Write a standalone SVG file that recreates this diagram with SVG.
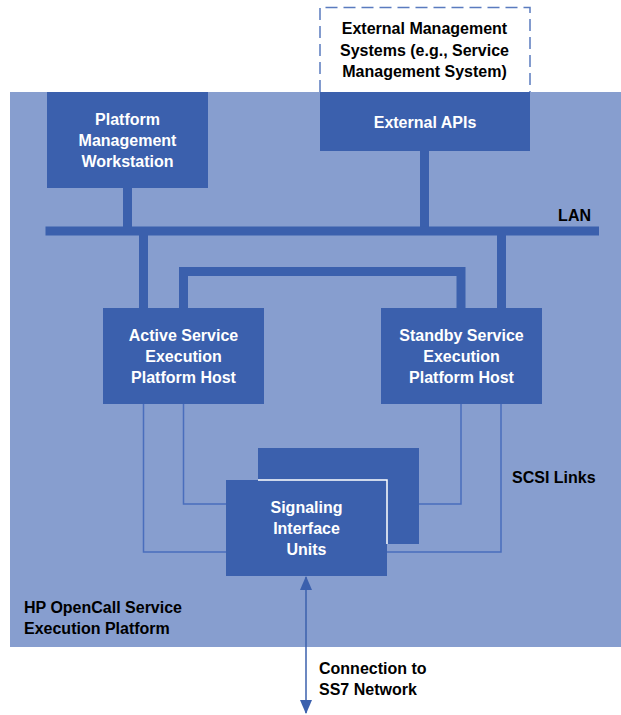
<svg xmlns="http://www.w3.org/2000/svg" width="621" height="715" viewBox="0 0 621 715">
<style>
.box{fill:#3B60AD}
.wt{fill:#fff;font-family:"Liberation Sans Narrow","Liberation Sans",Arial,sans-serif;font-weight:bold;font-size:16px;text-anchor:middle}
.bt{fill:#000;font-family:"Liberation Sans Narrow","Liberation Sans",Arial,sans-serif;font-weight:bold;font-size:16px}
.bus{fill:none;stroke:#3B60AD;stroke-width:9}
.thin{fill:none;stroke:#4A6EBD;stroke-width:1.5}
</style>
<defs>
<marker id="ah" viewBox="0 0 14 12" refX="13" refY="6" markerWidth="14" markerHeight="12" markerUnits="userSpaceOnUse" orient="auto-start-reverse">
<path d="M0,0 L14,6 L0,12 Z" fill="#3B60AD"/>
</marker>
</defs>
<rect id="platform" x="10" y="92" width="611" height="555" fill="#879ECF"/>
<g id="connectors">
<line class="bus" x1="127.5" y1="186" x2="127.5" y2="231"/>
<line class="bus" x1="424.5" y1="149" x2="424.5" y2="231"/>
<line class="bus" x1="45.5" y1="231" x2="599" y2="231"/>
<line class="bus" x1="143.5" y1="231" x2="143.5" y2="310"/>
<line class="bus" x1="501.5" y1="231" x2="501.5" y2="310"/>
<path class="bus" d="M183.5,310 V271.5 H461 V310"/>
<path class="thin" d="M143.5,403 V552 H227"/>
<path class="thin" d="M183.5,403 V504 H227"/>
<path class="thin" d="M461,403 V504 H418"/>
<path class="thin" d="M501,403 V552 H386"/>
<line x1="306" y1="577" x2="306" y2="713" stroke="#3B60AD" stroke-width="1.5" marker-start="url(#ah)" marker-end="url(#ah)"/>
</g>
<g id="ext-mgmt">
<path d="M320,92 V7.5 H530 V92" fill="#fff" stroke="#5A7BBF" stroke-width="1.5" stroke-dasharray="12,6"/>
<text class="bt" text-anchor="middle" x="424.5" y="34">External Management</text>
<text class="bt" text-anchor="middle" x="424.5" y="56">Systems (e.g., Service</text>
<text class="bt" text-anchor="middle" x="424.5" y="77">Management System)</text>
</g>
<g id="pmw">
<rect class="box" x="47" y="92" width="161" height="96"/>
<text class="wt" x="127.5" y="125">Platform</text>
<text class="wt" x="127.5" y="146">Management</text>
<text class="wt" x="127.5" y="167">Workstation</text>
</g>
<g id="ext-apis">
<rect class="box" x="320" y="92" width="210" height="59"/>
<text class="wt" x="425" y="128">External APIs</text>
</g>
<g id="active-host">
<rect class="box" x="103" y="308" width="161" height="96"/>
<text class="wt" x="183.5" y="341">Active Service</text>
<text class="wt" x="183.5" y="362">Execution</text>
<text class="wt" x="183.5" y="383">Platform Host</text>
</g>
<g id="standby-host">
<rect class="box" x="381" y="308" width="161" height="96"/>
<text class="wt" x="461.5" y="341">Standby Service</text>
<text class="wt" x="461.5" y="362">Execution</text>
<text class="wt" x="461.5" y="383">Platform Host</text>
</g>
<g id="siu">
<rect class="box" x="258" y="448" width="161" height="96"/>
<rect class="box" x="226" y="480" width="161" height="96"/>
<path d="M258,480 H387 V544" fill="none" stroke="#fff" stroke-width="1.5"/>
<text class="wt" x="306.5" y="513">Signaling</text>
<text class="wt" x="306.5" y="534">Interface</text>
<text class="wt" x="306.5" y="555">Units</text>
</g>
<g id="labels">
<text class="bt" x="591" y="221" text-anchor="end">LAN</text>
<text class="bt" x="512" y="483">SCSI Links</text>
<text class="bt" x="24" y="613">HP OpenCall Service</text>
<text class="bt" x="24" y="634">Execution Platform</text>
<text class="bt" x="319" y="674">Connection to</text>
<text class="bt" x="319" y="695">SS7 Network</text>
</g>
</svg>
